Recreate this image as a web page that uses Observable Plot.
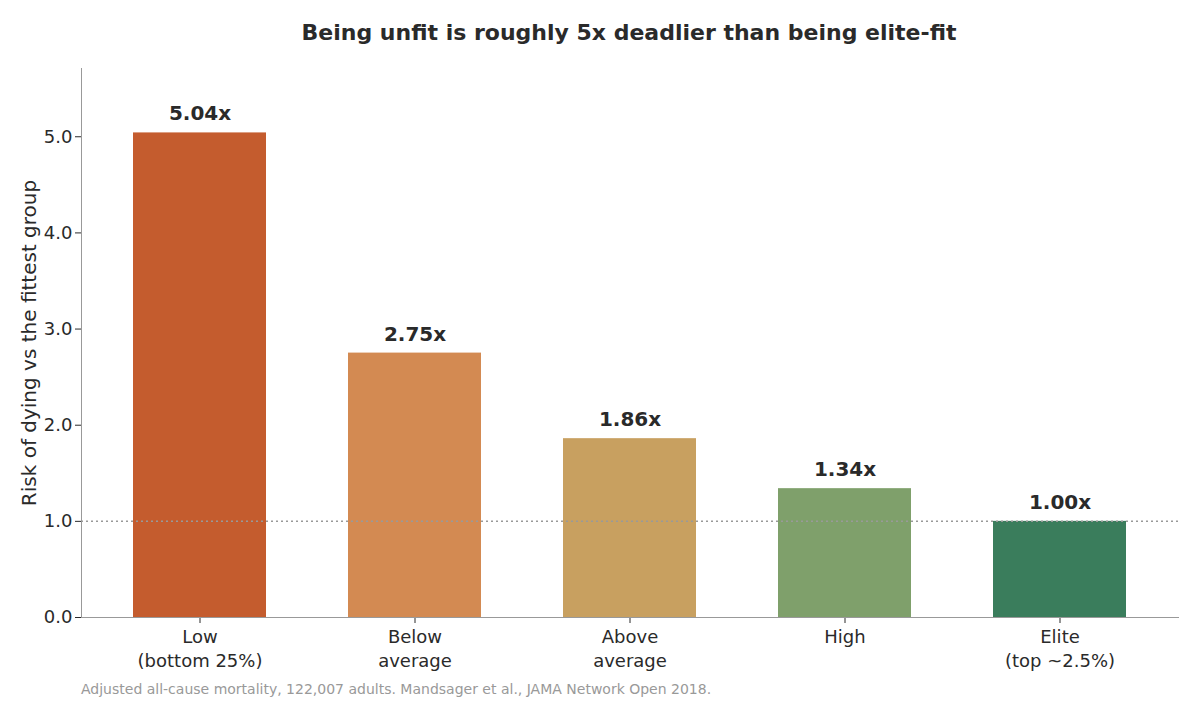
<!DOCTYPE html>
<html><head><meta charset="utf-8">
<script src="https://cdn.jsdelivr.net/npm/d3@7"></script>
<script src="https://cdn.jsdelivr.net/npm/@observablehq/plot@0.6"></script>
<style>
body{margin:0;background:#fff;font-family:"DejaVu Sans",sans-serif}
#wrap{position:relative;width:1200px;height:720px}
#title{position:absolute;top:20px;left:0;width:1258px;text-align:center;font-weight:bold;font-size:22px;color:#2a2a2a}
#cap{position:absolute;top:681px;left:81px;font-size:14px;color:#999}
</style></head><body>
<div id="wrap"><div id="chart"></div>
<div id="title">Being unfit is roughly 5x deadlier than being elite-fit</div>
<div id="cap">Adjusted all-cause mortality, 122,007 adults. Mandsager et al., JAMA Network Open 2018.</div></div>
<script>
const categories = ["Low\n(bottom 25%)","Below\naverage","Above\naverage","High","Elite\n(top ~2.5%)"];
const values = [5.04, 2.75, 1.86, 1.34, 1.00];
const colors = ["#C45C2E","#D38A52","#C8A060","#7FA06B","#3A7D5C"];
const data = categories.map((c,i)=>({c, v:values[i], col:colors[i]}));
const plot = Plot.plot({
  width:1200, height:720, marginTop:68, marginBottom:103, marginLeft:81, marginRight:22,
  style:{fontFamily:"DejaVu Sans, sans-serif", fontSize:"18px", color:"#2a2a2a"},
  x:{domain:categories, paddingInner:0.38, paddingOuter:0.23, label:null, tickSize:6, tickPadding:4},
  y:{domain:[0,5.71], ticks:[0,1,2,3,4,5], label:"Risk of dying vs the fittest group", labelAnchor:"center", labelArrow:"none", tickSize:6},
  marks:[
    Plot.barY(data,{x:"c", y:"v", fill:"col"}),
    Plot.ruleY([1],{stroke:"#999", strokeDasharray:"2,3", strokeWidth:1.5}),
    Plot.text(data,{x:"c", y:"v", text:d=>d.v.toFixed(2)+"x", dy:-19, fontWeight:"bold", fontSize:20, fill:"#2a2a2a"}),
    Plot.axisX({label:null, tickSize:6, fontSize:18, lineHeight:1.3}),
    Plot.axisY({ticks:[0,1,2,3,4,5], tickSize:6, fontSize:18, label:"Risk of dying vs the fittest group", labelAnchor:"center", labelArrow:"none", labelOffset:60}),
    Plot.ruleX([0].map(()=>categories[0]),{}) && Plot.frame({anchor:"left", stroke:"#999"}),
    Plot.frame({anchor:"bottom", stroke:"#999"})
  ]
});
plot.querySelectorAll('[aria-label="y-axis label"] text, [aria-label="y-axis label"]').forEach(e=>e.setAttribute("font-size","20"));
document.getElementById("chart").appendChild(plot);
</script></body></html>
